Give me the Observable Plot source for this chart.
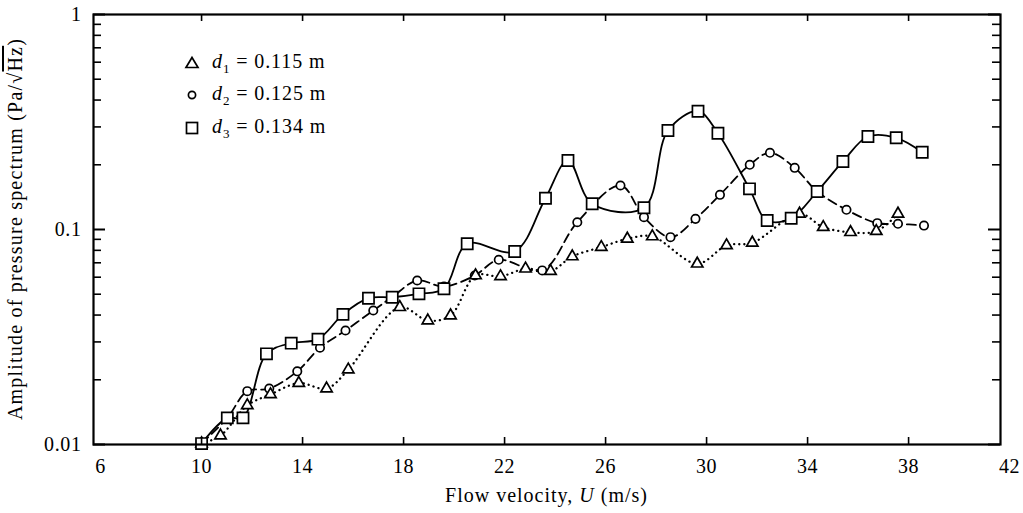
<!DOCTYPE html>
<html><head><meta charset="utf-8">
<script src="https://cdn.jsdelivr.net/npm/d3@7"></script>
<script src="https://cdn.jsdelivr.net/npm/@observablehq/plot@0.6"></script>
<style>
body{margin:0;background:#fff;}
#wrap{position:relative;width:1023px;height:513px;font-family:"Liberation Serif",serif;color:#000;background:#fff;}
.lg{position:absolute;left:183px;height:26px;display:flex;align-items:center;font-size:20px;letter-spacing:0.9px;white-space:nowrap;}
.lg svg{width:18px;height:18px;margin-right:11px;}
.lg sub{font-size:13px;vertical-align:-5px;}
#xl{position:absolute;left:93px;width:907px;top:483px;text-align:center;font-size:20px;letter-spacing:1px;line-height:24px;}
#yl{position:absolute;left:-200px;width:430px;top:217px;height:24px;line-height:24px;text-align:center;font-size:20px;letter-spacing:1.2px;transform:rotate(-90deg);white-space:nowrap;}
.ov{text-decoration:overline;}
</style>
</head><body>
<div id="wrap"></div>
<script>
// Tick values
const xTicks = [6, 10, 14, 18, 22, 26, 30, 34, 38, 42];
const xInner = [10, 14, 18, 22, 26, 30, 34, 38];
const yMajor = [0.01, 0.1, 1];
const yMinor = [0.02,0.03,0.04,0.05,0.06,0.07,0.08,0.09,0.2,0.3,0.4,0.5,0.6,0.7,0.8,0.9];

// d1 = 0.115 m (triangles)
const U1 = [10, 10.75, 11.81, 12.73, 13.85, 14.95, 15.81, 17.85, 18.96, 19.86, 20.85, 21.84, 22.83, 23.82, 24.68, 25.83, 26.86, 27.85, 29.63, 30.79, 31.81, 33.68, 34.62, 35.70, 36.72, 37.58];
const A1 = [0.0101, 0.0110, 0.0152, 0.0171, 0.0193, 0.0182, 0.0223, 0.0435, 0.0377, 0.0398, 0.0611, 0.0605, 0.0657, 0.0640, 0.0749, 0.0828, 0.0905, 0.0928, 0.0693, 0.0843, 0.0867, 0.1183, 0.1025, 0.0971, 0.0982, 0.1183];

// d2 = 0.125 m (circles)
const U2 = [10, 11.02, 11.81, 12.68, 13.79, 14.69, 15.70, 16.80, 17.55, 18.54, 19.60, 20.82, 21.77, 23.49, 24.88, 26.59, 27.52, 28.57, 29.56, 30.53, 31.71, 32.51, 33.49, 34.38, 35.54, 36.76, 37.58, 38.61];
const A2 = [0.0101, 0.0133, 0.0177, 0.0182, 0.0219, 0.0282, 0.0339, 0.0420, 0.0485, 0.0579, 0.0543, 0.0611, 0.0723, 0.0645, 0.1081, 0.1602, 0.1141, 0.0921, 0.1121, 0.1450, 0.2000, 0.2274, 0.1936, 0.1502, 0.1235, 0.1070, 0.1063, 0.1043];

// d3 = 0.134 m (squares)
const U3 = [10, 11.02, 11.64, 12.57, 13.55, 14.61, 15.60, 16.61, 17.55, 18.61, 19.60, 20.52, 22.40, 23.62, 24.51, 25.47, 27.52, 28.47, 29.66, 30.45, 31.70, 32.40, 33.35, 34.38, 35.40, 36.39, 37.51, 38.54];
const A3 = [0.0101, 0.0133, 0.0133, 0.0264, 0.0296, 0.0309, 0.0403, 0.0479, 0.0484, 0.0502, 0.0530, 0.0858, 0.0790, 0.1398, 0.2094, 0.1317, 0.1262, 0.2887, 0.3549, 0.2805, 0.1546, 0.1101, 0.1128, 0.1502, 0.2072, 0.2708, 0.2671, 0.2288];

const t1 = U1.map((u, i) => ({u, a: A1[i]}));
const t2 = U2.map((u, i) => ({u, a: A2[i]}));
const t3 = U3.map((u, i) => ({u, a: A3[i]}));

const W = 1023, H = 513, mL = 93, mR = 23, mT = 14, mB = 69;
const pW = W - mL - mR, pH = H - mT - mB;

const chart = Plot.plot({
  width: W, height: H,
  marginLeft: mL, marginRight: mR, marginTop: mT, marginBottom: mB,
  style: {fontFamily: "Liberation Serif", fontSize: "20px", letterSpacing: "0.6px", color: "black", background: "white", overflow: "visible"},
  x: {domain: [5.72, 41.64]},
  y: {type: "log", domain: [0.01, 1]},
  marks: [
    Plot.line(t1, {x: "u", y: "a", curve: "catmull-rom", stroke: "black", strokeWidth: 2.3, strokeDasharray: "0.1,5", strokeLinecap: "round"}),
    Plot.line(t2, {x: "u", y: "a", curve: "catmull-rom", stroke: "black", strokeWidth: 1.8, strokeDasharray: "9,5"}),
    Plot.line(t3, {x: "u", y: "a", curve: "catmull-rom", stroke: "black", strokeWidth: 1.8}),
    Plot.dot(t2, {x: "u", y: "a", symbol: "circle", r: 4.2, stroke: "black", fill: "white", strokeWidth: 1.7}),
    Plot.dot(t1, {x: "u", y: "a", symbol: "triangle", r: 4.2, stroke: "black", fill: "white", strokeWidth: 1.7}),
    Plot.dot(t3, {x: "u", y: "a", symbol: "square", r: 6.3, stroke: "black", fill: "white", strokeWidth: 1.7}),
    Plot.tickY(yMajor, {y: d => d, insetRight: pW - 12, strokeWidth: 2}),
    Plot.tickY(yMinor, {y: d => d, insetRight: pW - 8, strokeWidth: 1.6}),
    Plot.tickY(yMajor, {y: d => d, insetLeft: pW - 12, strokeWidth: 2}),
    Plot.tickY(yMinor, {y: d => d, insetLeft: pW - 8, strokeWidth: 1.6}),
    Plot.tickX(xInner, {x: d => d, insetTop: pH - 7, strokeWidth: 1.6}),
    Plot.tickX(xInner, {x: d => d, insetBottom: pH - 7, strokeWidth: 1.6}),
    Plot.frame({stroke: "black", strokeWidth: 2.2}),
    Plot.axisX({ticks: xTicks, tickSize: 0, tickPadding: 14, label: null, tickFormat: d => String(d)}),
    Plot.axisY({ticks: yMajor, tickSize: 0, tickPadding: 12, label: null, tickFormat: d => String(d)})
  ]
});

const wrap = document.getElementById("wrap");
wrap.appendChild(chart);

const tri = '<svg viewBox="-9 -9 18 18"><polygon points="0,-5.5 6,4.5 -6,4.5" fill="white" stroke="black" stroke-width="1.7"/></svg>';
const cir = '<svg viewBox="-9 -9 18 18"><circle r="3.6" fill="white" stroke="black" stroke-width="1.7"/></svg>';
const sq = '<svg viewBox="-9 -9 18 18"><rect x="-5.5" y="-5.5" width="11" height="11" fill="white" stroke="black" stroke-width="1.7"/></svg>';
const rows = [[tri, "1", "0.115", 50], [cir, "2", "0.125", 82], [sq, "3", "0.134", 115]];
for (const [s, k, v, top] of rows) {
  const d = document.createElement("div");
  d.className = "lg";
  d.style.top = top + "px";
  d.innerHTML = s + '<span><i>d</i><sub>' + k + '</sub> = ' + v + ' m</span>';
  wrap.appendChild(d);
}
const xl = document.createElement("div");
xl.id = "xl";
xl.innerHTML = 'Flow velocity, <i>U</i> (m/s)';
wrap.appendChild(xl);
const yl = document.createElement("div");
yl.id = "yl";
yl.innerHTML = 'Amplitude of pressure spectrum (Pa/√<span class="ov">Hz</span>)';
wrap.appendChild(yl);
</script>
</body></html>
